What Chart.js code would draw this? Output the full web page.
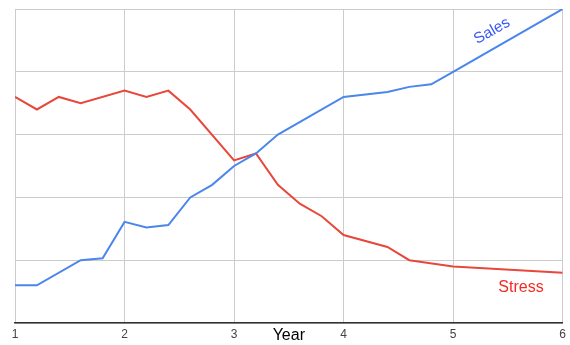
<!DOCTYPE html>
<html>
<head>
<meta charset="utf-8">
<script src="https://cdn.jsdelivr.net/npm/chart.js@4"></script>
<style>
  html, body { margin: 0; padding: 0; background: #fff; }
  #wrap { width: 570px; height: 345px; }
</style>
</head>
<body>
<div id="wrap"><canvas id="grafico" width="570" height="345"></canvas></div>
<script>
// Datos
const salesYears  = [1, 1.2, 1.6, 1.8, 2, 2.2, 2.4, 2.6, 2.8, 3, 3.2, 3.4, 4, 4.4, 4.6, 4.8, 5, 6];
const salesValues = [0.6, 0.6, 1.0, 1.03, 1.61, 1.52, 1.56, 2.0, 2.2, 2.5, 2.7, 3.0, 3.6, 3.68, 3.76, 3.8, 4.0, 5.0];
const stressYears  = [1, 1.2, 1.4, 1.6, 2, 2.2, 2.4, 2.6, 3, 3.2, 3.4, 3.6, 3.8, 4, 4.4, 4.6, 5, 6];
const stressValues = [3.6, 3.4, 3.6, 3.5, 3.7, 3.6, 3.7, 3.4, 2.59, 2.7, 2.2, 1.9, 1.7, 1.4, 1.21, 1.0, 0.9, 0.8];
const yearTicks = [1, 2, 3, 4, 5, 6];

const toPoints = (xs, ys) => xs.map((x, i) => ({ x: x, y: ys[i] }));

// Etiquetas de texto sobre el gráfico
const etiquetas = {
  id: "etiquetas",
  afterDraw(chart) {
    const ctx = chart.ctx;
    const area = chart.chartArea;
    ctx.save();
    ctx.textAlign = "center";
    ctx.textBaseline = "middle";

    ctx.fillStyle = "#000";
    ctx.font = "16px Arial, 'Liberation Sans', sans-serif";
    ctx.fillText("Year", (area.left + area.right) / 2, 336);

    ctx.fillStyle = "#f22a22";
    ctx.font = "16px Arial, 'Liberation Sans', sans-serif";
    ctx.fillText("Stress", 521, 288);

    ctx.translate(492, 31);
    ctx.rotate(-29.5 * Math.PI / 180);
    ctx.fillStyle = "#3a5af2";
    ctx.font = "15.5px Arial, 'Liberation Sans', sans-serif";
    ctx.fillText("Sales", 0, 0);
    ctx.restore();
  }
};

const ctx = document.getElementById("grafico").getContext("2d");

window.grafico = new Chart(ctx, {
  type: "line",
  data: {
    datasets: [
      {
        label: "Sales",
        data: toPoints(salesYears, salesValues),
        borderColor: "#4a86ec",
        borderWidth: 2,
        pointRadius: 0,
        tension: 0
      },
      {
        label: "Stress",
        data: toPoints(stressYears, stressValues),
        borderColor: "#e8473b",
        borderWidth: 2,
        pointRadius: 0,
        tension: 0
      }
    ]
  },
  options: {
    responsive: false,
    animation: false,
    layout: { padding: { left: 15, right: 7, top: 9, bottom: 0 } },
    scales: {
      x: {
        type: "linear",
        min: 1,
        max: 6,
        afterBuildTicks: (scale) => { scale.ticks = yearTicks.map(v => ({ value: v })); },
        afterFit: (scale) => { scale.height = 22; },
        grid: { color: "#cccccc", drawTicks: false },
        border: { color: "#333333", width: 1.5 },
        ticks: {
          padding: 4,
          color: "#444",
          font: { family: "Arial, 'Liberation Sans', sans-serif", size: 12 },
          maxRotation: 0
        }
      },
      y: {
        min: 0,
        max: 5,
        afterFit: (scale) => { scale.width = 0; },
        grid: { color: "#cccccc", drawTicks: false },
        border: { display: false },
        ticks: { display: false, stepSize: 1 }
      }
    },
    plugins: {
      legend: { display: false },
      tooltip: { enabled: false }
    }
  },
  plugins: [etiquetas]
});
</script>
</body>
</html>
